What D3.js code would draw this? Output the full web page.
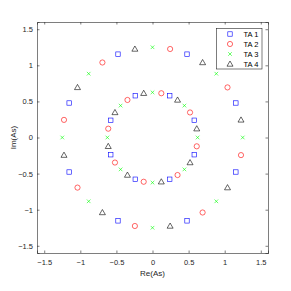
<!DOCTYPE html>
<html><head><meta charset="utf-8">
<script src="https://cdn.jsdelivr.net/npm/d3@7"></script>
<style>body{margin:0;background:#fff}svg{display:block}text{font-family:"Liberation Sans",Arial,sans-serif}</style>
</head><body><svg id="c" width="291" height="291"></svg>
<script>
const seriesNames = ["TA 1","TA 2","TA 3","TA 4"];
const ta1X = [1.155,0.478,-0.478,-1.155,-1.155,-0.478,0.478,1.155, 0.578,0.239,-0.239,-0.578,-0.578,-0.239,0.239,0.578];
const ta1Y = [0.478,1.155,1.155,0.478,-0.478,-1.155,-1.155,-0.478, 0.239,0.578,0.578,0.239,-0.239,-0.578,-0.578,-0.239];
const ta2X = [1.039,0.244,-0.694,-1.226,-1.039,-0.244,0.694,1.226, 0.520,0.122,-0.347,-0.613,-0.520,-0.122,0.347,0.613];
const ta2Y = [0.694,1.226,1.039,0.244,-0.694,-1.226,-1.039,-0.244, 0.347,0.613,0.520,0.122,-0.347,-0.613,-0.520,-0.122];
const ta3X = [1.25,0.884,0,-0.884,-1.25,-0.884,0,0.884, 0.625,0.442,0,-0.442,-0.625,-0.442,0,0.442];
const ta3Y = [0,0.884,1.25,0.884,0,-0.884,-1.25,-0.884, 0,0.442,0.625,0.442,0,-0.442,-0.625,-0.442];
const ta4X = [1.226,0.694,-0.244,-1.039,-1.226,-0.694,0.244,1.039, 0.613,0.347,-0.122,-0.520,-0.613,-0.347,0.122,0.520];
const ta4Y = [0.244,1.039,1.226,0.694,-0.244,-1.039,-1.226,-0.694, 0.122,0.520,0.613,0.347,-0.122,-0.520,-0.613,-0.347];
const xTicks = [-1.5,-1,-0.5,0,0.5,1,1.5];
const yTicks = [-1.5,-1,-0.5,0,0.5,1,1.5];

const series = [
  {name:seriesNames[0], xs:ta1X, ys:ta1Y, color:"#0000ff", shape:"square"},
  {name:seriesNames[1], xs:ta2X, ys:ta2Y, color:"#ff0000", shape:"circle"},
  {name:seriesNames[2], xs:ta3X, ys:ta3Y, color:"#00ff00", shape:"x"},
  {name:seriesNames[3], xs:ta4X, ys:ta4Y, color:"#000000", shape:"triangle"}
];

const L=37, T=22, R=268, B=253;
const svg = d3.select("#c");
const x = d3.scaleLinear().domain([-1.6,1.6]).range([L,R]);
const y = d3.scaleLinear().domain([-1.6,1.6]).range([B,T]);
const axisColor = "#262626";

function drawMarker(g, shape, cx, cy, color){
  const sw = 0.6;
  if(shape==="square"){
    g.append("rect").attr("x",cx-2.2).attr("y",cy-2.2).attr("width",4.4).attr("height",4.4)
      .attr("fill","none").attr("stroke",color).attr("stroke-width",sw);
  } else if(shape==="circle"){
    g.append("circle").attr("cx",cx).attr("cy",cy).attr("r",2.6)
      .attr("fill","none").attr("stroke",color).attr("stroke-width",sw);
  } else if(shape==="x"){
    const s=1.8;
    g.append("path").attr("d",`M${cx-s},${cy-s}L${cx+s},${cy+s}M${cx-s},${cy+s}L${cx+s},${cy-s}`)
      .attr("stroke",color).attr("stroke-width",sw).attr("fill","none");
  } else {
    g.append("path").attr("d",`M${cx},${cy-3}L${cx+3},${cy+2.2}L${cx-3},${cy+2.2}Z`)
      .attr("fill","none").attr("stroke",color).attr("stroke-width",sw);
  }
}

// axes
const xb = svg.append("g").attr("transform",`translate(0,${B})`)
  .call(d3.axisBottom(x).tickValues(xTicks).tickSize(-2.5).tickPadding(7).tickFormat(d3.format("")));
const xt = svg.append("g").attr("transform",`translate(0,${T})`)
  .call(d3.axisTop(x).tickValues(xTicks).tickSize(-2.5).tickFormat(""));
const yl = svg.append("g").attr("transform",`translate(${L},0)`)
  .call(d3.axisLeft(y).tickValues(yTicks).tickSize(-2.5).tickPadding(4).tickFormat(d3.format("")));
const yr = svg.append("g").attr("transform",`translate(${R},0)`)
  .call(d3.axisRight(y).tickValues(yTicks).tickSize(-2.5).tickFormat(""));
[xb,xt,yl,yr].forEach(g=>{
  g.select(".domain").attr("stroke",axisColor).attr("stroke-width",0.6);
  g.selectAll(".tick line").attr("stroke",axisColor).attr("stroke-width",0.6);
  g.selectAll("text").attr("fill",axisColor).attr("font-size",7.5)
   .attr("font-family",'"Liberation Sans",Arial,sans-serif');
});
svg.append("text").attr("x",(L+R)/2).attr("y",276).attr("text-anchor","middle")
  .attr("font-size",8).attr("fill",axisColor).text("Re(As)");
svg.append("text").attr("transform",`translate(16,${(T+B)/2}) rotate(-90)`).attr("text-anchor","middle")
  .attr("font-size",8).attr("fill",axisColor).text("Im(As)");

// points
const pg = svg.append("g");
series.forEach(s=>{
  s.xs.forEach((v,i)=>drawMarker(pg, s.shape, x(v), y(s.ys[i]), s.color));
});

// legend
const lg = svg.append("g");
lg.append("rect").attr("x",216.5).attr("y",28.5).attr("width",45.5).attr("height",40.5)
  .attr("fill","#fff").attr("stroke",axisColor).attr("stroke-width",0.6);
series.forEach((s,i)=>{
  const cy = 34 + i*10;
  drawMarker(lg, s.shape, 230, cy, s.color);
  lg.append("text").attr("x",243.5).attr("y",cy+2.7).attr("font-size",7.5).attr("fill","#000").text(s.name);
});
</script></body></html>
